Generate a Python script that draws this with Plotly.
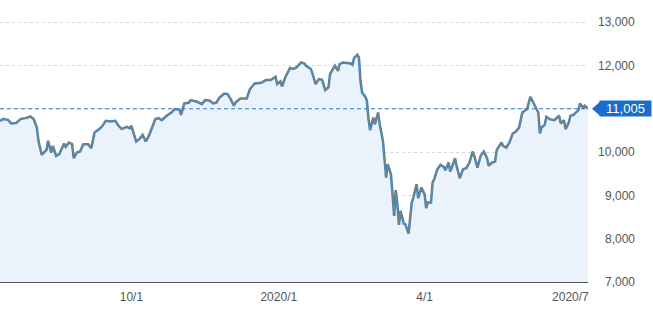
import plotly.graph_objects as go

dates = [
    "2019-07-11", "2019-07-13", "2019-07-16", "2019-07-18", "2019-07-21", "2019-07-24", "2019-07-27", "2019-07-30",
    "2019-08-01", "2019-08-03", "2019-08-04", "2019-08-06", "2019-08-09", "2019-08-10", "2019-08-12", "2019-08-13",
    "2019-08-15", "2019-08-17", "2019-08-20", "2019-08-21", "2019-08-23", "2019-08-25", "2019-08-26", "2019-08-28",
    "2019-08-30", "2019-09-01", "2019-09-04", "2019-09-06", "2019-09-08", "2019-09-11", "2019-09-13", "2019-09-15",
    "2019-09-18", "2019-09-21", "2019-09-23", "2019-09-25", "2019-09-28", "2019-09-30", "2019-10-01", "2019-10-04",
    "2019-10-06", "2019-10-08", "2019-10-10", "2019-10-12",
    "2019-10-16", "2019-10-18", "2019-10-20", "2019-10-23", "2019-10-26", "2019-10-28", "2019-10-31", "2019-11-01",
    "2019-11-03", "2019-11-06", "2019-11-07", "2019-11-11", "2019-11-14", "2019-11-16", "2019-11-19", "2019-11-21",
    "2019-11-23", "2019-11-25", "2019-11-28", "2019-11-30", "2019-12-02", "2019-12-04", "2019-12-05", "2019-12-08",
    "2019-12-12", "2019-12-14", "2019-12-17", "2019-12-21", "2019-12-24", "2019-12-27", "2019-12-30", "2019-12-31",
    "2020-01-02", "2020-01-03", "2020-01-05", "2020-01-08", "2020-01-10", "2020-01-12",
    "2020-01-15", "2020-01-17", "2020-01-18", "2020-01-21", "2020-01-22", "2020-01-24", "2020-01-26", "2020-01-28",
    "2020-01-30", "2020-02-01", "2020-02-02", "2020-02-04", "2020-02-05", "2020-02-07", "2020-02-08", "2020-02-10",
    "2020-02-13", "2020-02-15", "2020-02-16", "2020-02-17", "2020-02-19", "2020-02-20", "2020-02-21", "2020-02-22",
    "2020-02-24", "2020-02-25", "2020-02-26", "2020-02-27", "2020-02-29", "2020-03-01", "2020-03-03", "2020-03-04",
    "2020-03-06", "2020-03-07", "2020-03-08", "2020-03-09", "2020-03-11", "2020-03-12", "2020-03-13", "2020-03-14",
    "2020-03-15", "2020-03-16", "2020-03-17", "2020-03-19", "2020-03-20", "2020-03-22", "2020-03-23", "2020-03-24",
    "2020-03-25", "2020-03-27", "2020-03-28", "2020-03-30", "2020-04-01", "2020-04-02", "2020-04-03", "2020-04-05",
    "2020-04-06", "2020-04-07", "2020-04-09", "2020-04-11",
    "2020-04-13", "2020-04-14", "2020-04-16", "2020-04-17", "2020-04-18", "2020-04-20", "2020-04-21", "2020-04-23",
    "2020-04-25", "2020-04-27", "2020-04-29", "2020-05-01", "2020-05-02", "2020-05-04", "2020-05-06", "2020-05-08",
    "2020-05-10", "2020-05-11", "2020-05-13", "2020-05-15", "2020-05-16", "2020-05-17", "2020-05-19", "2020-05-20",
    "2020-05-22", "2020-05-24", "2020-05-26", "2020-05-28", "2020-05-30", "2020-06-01", "2020-06-03", "2020-06-04",
    "2020-06-06", "2020-06-07", "2020-06-09", "2020-06-11", "2020-06-12", "2020-06-13", "2020-06-15", "2020-06-16",
    "2020-06-18", "2020-06-21", "2020-06-24", "2020-06-25", "2020-06-27", "2020-06-28", "2020-06-30", "2020-07-01",
    "2020-07-03", "2020-07-06", "2020-07-07", "2020-07-09", "2020-07-10", "2020-07-12",
]

values = [
    10727, 10766, 10750, 10664, 10674, 10773, 10789, 10826,
    10766, 10572, 10264, 9940, 10056, 10264, 9993, 10148,
    9917, 9956, 10201, 10125, 10225, 10187, 9863, 9993,
    10016, 10187, 10187, 10095, 10456, 10535, 10611, 10727,
    10711, 10727, 10611, 10535, 10588, 10558, 10611, 10248,
    10303, 10403, 10248, 10390,
    10766, 10789, 10743, 10843, 10919, 10998, 10981, 10866,
    11127, 11150, 11206, 11167, 11113, 11206, 11190, 11127,
    11144, 11266, 11359, 11345, 11229, 11074, 11150, 11243,
    11243, 11461, 11590, 11606, 11669, 11669, 11745, 11576,
    11637, 11521, 11729, 11947, 11924, 11961,
    12076, 12053, 12000, 11924, 11822, 11576, 11692, 11676,
    11437, 11498, 11808, 11961, 12000, 11884, 12039, 12076,
    12053, 12053, 12023, 12178, 12255, 12192, 11653, 11382,
    11282, 11190, 10766, 10512, 10803, 10650, 10919, 10650,
    10264, 9801, 9414, 9724, 9493, 9030, 8528, 9123,
    8799, 8319, 8644, 8350, 8336, 8118, 8567, 8836,
    8951, 9262, 8937, 9183, 9030, 8706, 8836, 8836,
    9299, 9377, 9609, 9708,
    9662, 9586, 9762, 9553, 9646, 9863, 9685, 9400,
    9609, 9632, 9762, 10016, 9917, 9646, 9917, 10016,
    9863, 9685, 9762, 9785, 10049, 10109, 10225, 10148,
    10109, 10225, 10433, 10479, 10572, 10919, 10975, 10998,
    11282, 11206, 11074, 10919, 10433, 10572, 10634, 10819,
    10766, 10743, 10843, 10664, 10743, 10535, 10688, 10843,
    10866, 10975, 11127, 11035, 11074, 11005,
]

x_tick_vals = ["2019-10-01", "2020-01-01", "2020-04-01", "2020-07-01"]
x_tick_text = ["10/1", "2020/1", "4/1", "2020/7"]
y_tick_vals = [7000, 8000, 9000, 10000, 11000, 12000, 13000]
y_tick_text = ["7,000", "8,000", "9,000", "10,000", "11,000", "12,000", "13,000"]
x_range = ["2019-07-11", "2020-07-12"]
y_range = [7000, 13520]

last_value = values[-1]
last_label = f"{last_value:,}"

FONT = "Liberation Sans, Arial, sans-serif"

fig = go.Figure()
fig.add_trace(go.Scatter(
    x=dates, y=values, mode="lines",
    line=dict(color="#3d7fc4", width=2.5),
    fill="tozeroy", fillcolor="#eaf2fb",
    hoverinfo="skip", showlegend=False,
))
fig.add_trace(go.Scatter(
    x=dates, y=values, mode="lines",
    line=dict(color="#80876f", width=1.1),
    hoverinfo="skip", showlegend=False,
))

# current value dashed line
fig.add_shape(type="line", xref="paper", yref="y", x0=0, x1=1,
              y0=last_value, y1=last_value,
              line=dict(color="#2b7bd0", width=1, dash="4px,3px"), layer="above")

# right-aligned y tick labels (the one hidden behind the value badge is skipped)
for v, t in zip(y_tick_vals, y_tick_text):
    if abs(v - last_value) < 200:
        continue
    fig.add_annotation(
        xref="paper", yref="y", x=637 / 588, y=v,
        xanchor="right", yanchor="middle",
        text=t, showarrow=False,
        font=dict(family=FONT, size=12, color="#555555"),
    )

# pointer triangle of the value badge
fig.add_shape(type="path", xref="paper", yref="y",
              xsizemode="pixel", ysizemode="pixel",
              xanchor=1.0, yanchor=last_value,
              path="M 4,0 L 12,7 L 12,-7 Z",
              fillcolor="#1a6dc8", line=dict(width=0))

fig.add_annotation(
    xref="paper", yref="y", x=599 / 588, y=last_value,
    xanchor="left", yanchor="middle",
    text=last_label, showarrow=False,
    font=dict(family=FONT, size=13, color="white"),
    bgcolor="#1a6dc8", borderpad=1, width=49, height=13,
)

fig.update_layout(
    width=653, height=314,
    margin=dict(l=0, r=65, t=0, b=32),
    paper_bgcolor="white", plot_bgcolor="white",
    font=dict(family=FONT, size=12, color="#555555"),
    xaxis=dict(
        type="date", range=x_range,
        tickvals=x_tick_vals, ticktext=x_tick_text,
        showgrid=False, zeroline=False,
        showline=True, linecolor="#4d5666", linewidth=1,
        ticks="", ticklabelstandoff=4,
        tickfont=dict(family=FONT, size=12, color="#555555"),
    ),
    yaxis=dict(
        side="right", range=y_range,
        tickvals=y_tick_vals, showticklabels=False,
        showgrid=True, gridcolor="#d8d8d8", griddash="3px,3px", gridwidth=1,
        zeroline=False, showline=False, ticks="",
    ),
)

fig.write_html("out.html")
